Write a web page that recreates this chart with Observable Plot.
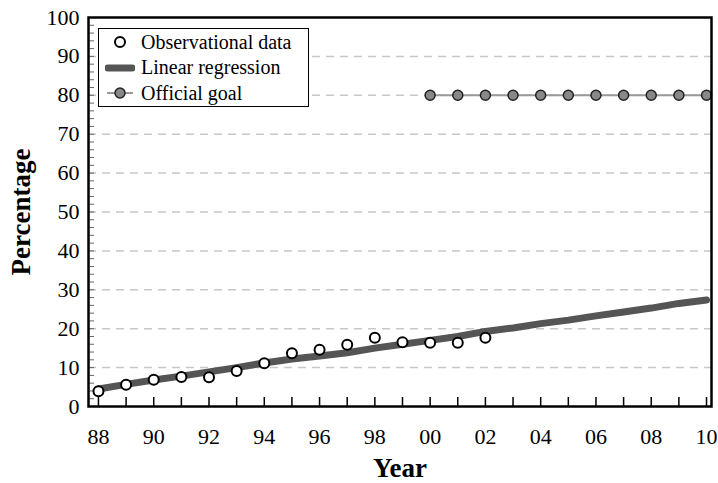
<!DOCTYPE html>
<html><head><meta charset="utf-8">
<script src="https://cdn.jsdelivr.net/npm/d3@7"></script>
<script src="https://cdn.jsdelivr.net/npm/@observablehq/plot@0.6"></script>
<style>
body{margin:0;background:#fff;}
#wrap{position:relative;width:718px;height:483px;font-family:"Liberation Serif",serif;}
#wrap svg text{font-family:"Liberation Serif",serif !important;}
#legend{position:absolute;left:98px;top:28px;width:211px;height:79px;border:1.5px solid #000;background:#fff;box-sizing:border-box;font-size:20px;font-family:"Liberation Serif",serif;}
#legend div{display:flex;align-items:center;height:24.5px;margin-top:1px}
#legend svg{margin-left:6px;margin-right:6px}
</style></head>
<body><div id="wrap"></div>
<script>
const obsYears = [1988,1989,1990,1991,1992,1993,1994,1995,1996,1997,1998,1999,2000,2001,2002];
const obsValues = [3.9,5.6,6.9,7.6,7.5,9.1,11.1,13.7,14.6,15.9,17.7,16.5,16.4,16.4,17.7];
const regYears = [1988,1989,1990,1991,1992,1993,1994,1995,1996,1997,1998,1999,2000,2001,2002,2003,2004,2005,2006,2007,2008,2009,2010];
const regValues = [4.5,5.7,6.8,7.8,8.9,10.0,11.2,12.2,13.0,13.8,15.0,16.0,17.0,18.0,19.3,20.2,21.3,22.2,23.3,24.3,25.3,26.5,27.4];
const goalYears = [2000,2001,2002,2003,2004,2005,2006,2007,2008,2009,2010];
const goalValues = [80,80,80,80,80,80,80,80,80,80,80];
const xTickLabels = [1988,1990,1992,1994,1996,1998,2000,2002,2004,2006,2008,2010];
const yTicks = [0,10,20,30,40,50,60,70,80,90,100];
const gridLines = [10,20,30,40,50,60,70,80,90];
const yMinor = d3.range(0,101,2);

const obs = obsYears.map((x,i)=>({x,y:obsValues[i]}));
const reg = regYears.map((x,i)=>({x,y:regValues[i]}));
const goal = goalYears.map((x,i)=>({x,y:goalValues[i]}));

const chart = Plot.plot({
  width:718, height:483,
  marginLeft:88, marginRight:7, marginTop:17, marginBottom:77,
  style:{fontFamily:"Liberation Serif, serif", fontSize:"22px", color:"#000", background:"#fff"},
  x:{domain:[1987.64,2010.18]},
  y:{domain:[0,100]},
  marks:[
    Plot.ruleY(gridLines,{stroke:"#c8c8c8", strokeWidth:1.5, strokeDasharray:"8,6"}),
    Plot.axisX(regYears,{tickSize:-9, tickFormat:()=>"", strokeWidth:1.5, label:null}),
    Plot.axisX(xTickLabels,{tickSize:0, tickPadding:22, fontSize:22, tickFormat:d=>String(d%100).padStart(2,"0"),
      label:"Year", labelAnchor:"center", labelArrow:"none", labelOffset:70}),
    Plot.axisY(yMinor,{tickSize:-6, tickFormat:()=>"", strokeWidth:1, stroke:"#666", label:null}),
    Plot.axisY(yTicks,{tickSize:0, tickPadding:9, fontSize:22, label:"Percentage", labelAnchor:"center", labelArrow:"none", labelOffset:78}),
    Plot.line(reg,{x:"x", y:"y", stroke:"#555", strokeWidth:7, strokeLinecap:"round"}),
    Plot.line(goal,{x:"x", y:"y", stroke:"#999", strokeWidth:2}),
    Plot.dot(goal,{x:"x", y:"y", r:5, fill:"#888", stroke:"#222", strokeWidth:1.5}),
    Plot.dot(obs,{x:"x", y:"y", r:5, fill:"#fff", stroke:"#000", strokeWidth:2}),
    Plot.frame({stroke:"#000", strokeWidth:2.5})
  ]
});
chart.querySelectorAll('[aria-label="x-axis label"] text, [aria-label="y-axis label"] text').forEach(t=>{
  t.setAttribute("font-weight","bold"); t.setAttribute("font-size","27");
});
document.getElementById("wrap").appendChild(chart);

const lg = document.createElement("div");
lg.id="legend";
lg.innerHTML = `
<div><svg width="30" height="16"><circle cx="15" cy="8" r="5" fill="#fff" stroke="#000" stroke-width="2"/></svg>Observational data</div>
<div><svg width="30" height="16"><line x1="3" y1="8" x2="27" y2="8" stroke="#555" stroke-width="7" stroke-linecap="round"/></svg>Linear regression</div>
<div><svg width="30" height="16"><line x1="2" y1="8" x2="28" y2="8" stroke="#999" stroke-width="2"/><circle cx="15" cy="8" r="5" fill="#888" stroke="#222" stroke-width="1.5"/></svg>Official goal</div>`;
document.getElementById("wrap").appendChild(lg);
</script></body></html>
